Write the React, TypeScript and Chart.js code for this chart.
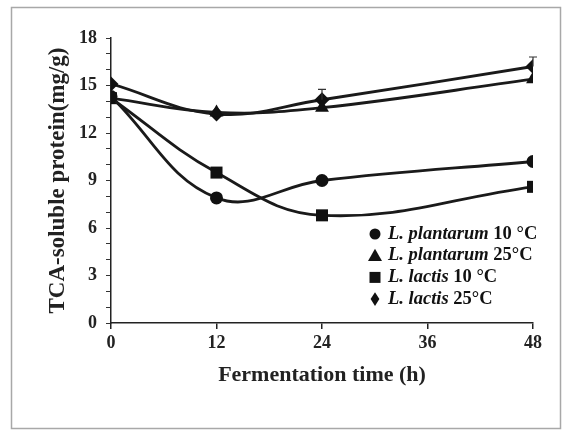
import React, { useEffect, useRef } from "react";
import { Chart, registerables } from "chart.js";

Chart.register(...registerables);

const times = [0, 12, 24, 48];
const xTicks = [0, 12, 24, 36, 48];
const plantarum10 = [14.3, 7.9, 9.0, 10.2];
const plantarum25 = [14.2, 13.3, 13.6, 15.4];
const lactis10 = [14.2, 9.5, 6.8, 8.6];
const lactis25 = [15.1, 13.2, 14.1, 16.2];
const lactis25Err = [0, 0, 0.65, 0.6];

const seriesNames = ["L. plantarum", "L. plantarum", "L. lactis", "L. lactis"];
const seriesTemps = [" 10 °C", " 25°C", " 10 °C", " 25°C"];
const seriesStyles = ["circle", "triangle", "rect", "rectRot"];
const seriesRadius = [6.5, 8, 8.5, 7.5];

const FONT = "'Liberation Serif', 'Times New Roman', serif";

function drawMarker(ctx: CanvasRenderingContext2D, style: string, x: number, y: number, r: number) {
  ctx.beginPath();
  if (style === "circle") {
    ctx.arc(x, y, r, 0, Math.PI * 2);
  } else if (style === "triangle") {
    ctx.moveTo(x, y - r);
    ctx.lineTo(x + r, y + r * 0.75);
    ctx.lineTo(x - r, y + r * 0.75);
    ctx.closePath();
  } else if (style === "rect") {
    ctx.rect(x - r, y - r, 2 * r, 2 * r);
  } else {
    ctx.moveTo(x, y - r * 1.25);
    ctx.lineTo(x + r * 0.8, y);
    ctx.lineTo(x, y + r * 1.25);
    ctx.lineTo(x - r * 0.8, y);
    ctx.closePath();
  }
  ctx.fill();
}

const framePlugin = {
  id: "frame",
  afterDraw(chart: any) {
    const ctx = chart.ctx;
    ctx.save();
    ctx.strokeStyle = "#a8a8a8";
    ctx.lineWidth = 1.5;
    ctx.strokeRect(11.5, 7.5, 549, 421);
    ctx.restore();
  },
};

const errorPlugin = {
  id: "errbars",
  afterDatasetsDraw(chart: any) {
    const ctx = chart.ctx;
    const xs = chart.scales.x;
    const ys = chart.scales.y;
    ctx.save();
    ctx.strokeStyle = "#333";
    ctx.lineWidth = 1.2;
    times.forEach((t, i) => {
      const e = lactis25Err[i];
      if (!e) return;
      const px = xs.getPixelForValue(t);
      const y0 = ys.getPixelForValue(lactis25[i]);
      const y1 = ys.getPixelForValue(lactis25[i] + e);
      ctx.beginPath();
      ctx.moveTo(px, y0);
      ctx.lineTo(px, y1);
      ctx.moveTo(px - 4, y1);
      ctx.lineTo(px + 4, y1);
      ctx.stroke();
    });
    ctx.restore();
  },
};

const legendPlugin = {
  id: "customLegend",
  afterDraw(chart: any) {
    const ctx = chart.ctx;
    const area = chart.chartArea;
    const x0 = area.right - 158;
    const yStart = area.bottom - 89;
    const rowH = 21.7;
    ctx.save();
    ctx.fillStyle = "#111";
    ctx.textBaseline = "middle";
    seriesNames.forEach((name, i) => {
      const y = yStart + i * rowH;
      const sizes = [5.5, 7, 5.5, 5.5];
      drawMarker(ctx, seriesStyles[i], x0, y, sizes[i]);
      ctx.font = `italic bold 18.5px ${FONT}`;
      ctx.fillText(name, x0 + 13, y);
      const w = ctx.measureText(name).width;
      ctx.font = `bold 18.5px ${FONT}`;
      ctx.fillText(seriesTemps[i], x0 + 13 + w, y);
    });
    ctx.restore();
  },
};

export default function App() {
  const ref = useRef<HTMLCanvasElement>(null);
  useEffect(() => {
    document.body.style.margin = "0";
    const mk = (data: number[], i: number) => ({
      label: seriesNames[i] + seriesTemps[i],
      data: times.map((t, j) => ({ x: t, y: data[j] })),
      borderColor: "#1a1a1a",
      backgroundColor: "#1a1a1a",
      borderWidth: 2.8,
      pointStyle: seriesStyles[i] as any,
      pointRadius: seriesRadius[i],
      pointBackgroundColor: "#111",
      pointBorderColor: "#111",
      pointBorderWidth: 0,
      tension: 0.4,
      cubicInterpolationMode: "default" as const,
    });
    const chart = new Chart(ref.current!, {
      type: "line",
      data: {
        datasets: [
          mk(plantarum10, 0),
          mk(plantarum25, 1),
          mk(lactis10, 2),
          mk(lactis25, 3),
        ],
      },
      options: {
        animation: false,
        responsive: false,
        layout: { padding: { left: 0, top: 38, right: 30, bottom: 0 } },
        plugins: { legend: { display: false }, tooltip: { enabled: false } },
        scales: {
          x: {
            type: "linear",
            min: 0,
            max: 48,
            afterBuildTicks: (s: any) => {
              s.ticks = xTicks.map((v) => ({ value: v }));
            },
            afterFit: (s: any) => {
              s.height = 107;
            },
            border: { color: "#222", width: 1.5 },
            grid: { drawOnChartArea: false, tickLength: 6, color: "#222", lineWidth: 1.5 },
            ticks: {
              color: "#222",
              padding: 4,
              autoSkip: false,
              maxRotation: 0,
              font: { family: FONT, size: 18, weight: "bold" },
            },
            title: {
              display: true,
              text: "Fermentation time (h)",
              color: "#222",
              font: { family: FONT, size: 22, weight: "bold" },
              padding: { top: 0, bottom: 41 },
            },
          },
          y: {
            min: 0,
            max: 18,
            ticks: {
              stepSize: 1,
              color: "#222",
              padding: 9,
              autoSkip: false,
              font: { family: FONT, size: 18, weight: "bold" },
              callback: (v: any) => (Number(v) % 3 === 0 ? String(v) : ""),
            },
            afterFit: (s: any) => {
              s.width = 111;
            },
            border: { color: "#222", width: 1.5 },
            grid: { drawOnChartArea: false, tickLength: 5, color: "#333", lineWidth: 1 },
            title: {
              display: true,
              text: "TCA-soluble protein(mg/g)",
              color: "#222",
              font: { family: FONT, size: 23, weight: "bold" },
              padding: { top: 44, bottom: 0 },
            },
          },
        },
      },
      plugins: [errorPlugin, legendPlugin, framePlugin],
    });
    return () => chart.destroy();
  }, []);
  return <canvas ref={ref} width={563} height={430} style={{ display: "block" }} />;
}
